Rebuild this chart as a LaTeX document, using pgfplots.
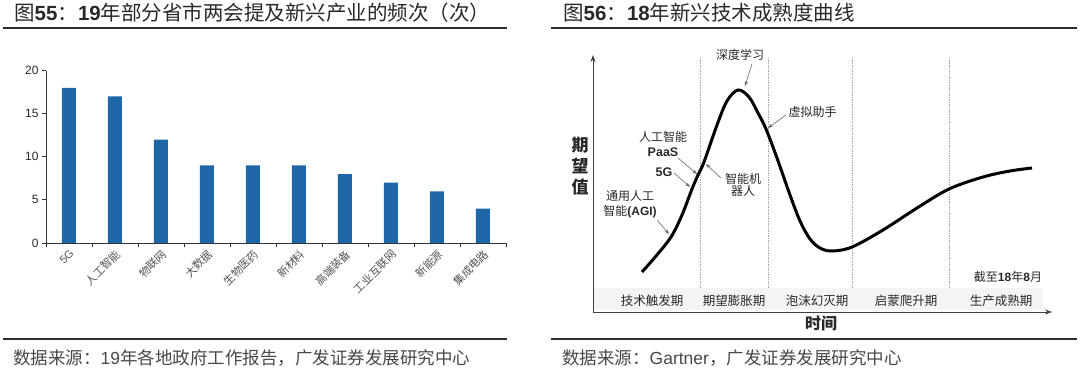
\documentclass[border=0pt]{standalone}
\usepackage{fontspec}
\setmainfont{Liberation Sans}
\newfontfamily\cjk{Noto Sans CJK SC}
\usepackage{pgfplots}
\pgfplotsset{compat=1.18}
\usetikzlibrary{arrows.meta}
\definecolor{barblue}{RGB}{30,102,166}
\definecolor{rulegray}{RGB}{45,45,45}
\definecolor{txt}{RGB}{40,40,40}
\begin{document}
\begin{tikzpicture}[x=1pt,y=1pt]
\path[use as bounding box] (0,0) rectangle (1080,373);
% titles
\node[anchor=west, inner sep=0, txt] at (14,360) {\fontsize{20.5}{20.5}\selectfont{\cjk 图}\textbf{55}{\cjk ：}\textbf{19}{\cjk 年部分省市两会提及新兴产业的频次（次）}};
\node[anchor=west, inner sep=0, txt] at (563,360) {\fontsize{20.5}{20.5}\selectfont{\cjk 图}\textbf{56}{\cjk ：}\textbf{18}{\cjk 年新兴技术成熟度曲线}};
\draw[rulegray, line width=2.5pt] (3,345) -- (507,345);
\draw[rulegray, line width=2.5pt] (551,345) -- (1077,345);
\draw[rulegray, line width=1.5pt] (3,34) -- (507,34);
\draw[rulegray, line width=1.5pt] (551,34) -- (1077,34);
% sources
\node[anchor=west, inner sep=0, txt!85] at (13,15) {\fontsize{17.5}{17.5}\selectfont{\cjk 数据来源：}19{\cjk 年各地政府工作报告，广发证券发展研究中心}};
\node[anchor=west, inner sep=0, txt!85] at (562,15) {\fontsize{17.5}{17.5}\selectfont{\cjk 数据来源：}Gartner{\cjk ，广发证券发展研究中心}};

% left bar chart
\begin{axis}[at={(46pt,130pt)}, anchor=south west, scale only axis,
  width=460pt, height=172.5pt,
  xmin=-0.5, xmax=9.5, ymin=0, ymax=20,
  axis lines*=left,
  axis line style={black!80, line width=0.8pt},
  tick style={black!80, line width=0.8pt},
  tick align=outside, major tick length=4pt,
  ytick={0,5,10,15,20},
  xtick={-0.5,0.5,...,9.5},
  x tick label as interval,
  xticklabels={5G,{\cjk 人工智能},{\cjk 物联网},{\cjk 大数据},{\cjk 生物医药},{\cjk 新材料},{\cjk 高端装备},{\cjk 工业互联网},{\cjk 新能源},{\cjk 集成电路}},
  xticklabel style={rotate=45, anchor=north east, font=\fontsize{11}{11}\selectfont, text=txt!80, inner sep=1pt},
  yticklabel style={font=\fontsize{12}{12}\selectfont, text=txt},
  /pgf/number format/assume math mode=true,
]
\addplot[ybar, bar width=14pt, fill=barblue, draw=none] coordinates {
(0,18) (1,17) (2,12) (3,9) (4,9) (5,9) (6,8) (7,7) (8,6) (9,4)};
\end{axis}

% right hype cycle
\node[txt, font=\bfseries\cjk\fontsize{17}{17}\selectfont, align=center, inner sep=0] at (580,207) {期\\[4pt]望\\[4pt]值};
\begin{axis}[at={(593pt,61pt)}, anchor=south west, scale only axis,
  width=459pt, height=257pt,
  xmin=593, xmax=1052, ymin=61, ymax=318,
  axis lines*=left,
  axis line style={black!75, line width=1pt, -{Stealth[length=7pt,width=5pt]}},
  xtick=\empty, ytick=\empty, clip=false]
\fill[gray!9] (axis cs:594,63) rectangle (axis cs:1043,85);
\draw[gray!70, line width=0.8pt, dash pattern=on 0.7pt off 1pt] (axis cs:700,85) -- (axis cs:700,315);
\draw[gray!70, line width=0.8pt, dash pattern=on 0.7pt off 1pt] (axis cs:768,85) -- (axis cs:768,315);
\draw[gray!70, line width=0.8pt, dash pattern=on 0.7pt off 1pt] (axis cs:852,85) -- (axis cs:852,315);
\draw[gray!70, line width=0.8pt, dash pattern=on 0.7pt off 1pt] (axis cs:949,85) -- (axis cs:949,315);
\addplot[black, line width=3pt, smooth, tension=0.55] coordinates {
(642,101) (656,117) (671,136) (682,158) (692,184) (698,198) (704,211) (717,248) (727,272) (738,283) (749,276) (758,260) (766,244) (777,215) (790,178) (800,152) (810,134) (820,125) (832,122) (852,126) (883,143) (917,165) (949,184) (983,196) (1010,202) (1032,205)};
% phase labels
\node[txt, font=\cjk\fontsize{12.5}{12.5}\selectfont] at (axis cs:652,72) {技术触发期};
\node[txt, font=\cjk\fontsize{12.5}{12.5}\selectfont] at (axis cs:734,72) {期望膨胀期};
\node[txt, font=\cjk\fontsize{12.5}{12.5}\selectfont] at (axis cs:817,72) {泡沫幻灭期};
\node[txt, font=\cjk\fontsize{12.5}{12.5}\selectfont] at (axis cs:906,72) {启蒙爬升期};
\node[txt, font=\cjk\fontsize{12.5}{12.5}\selectfont] at (axis cs:1001,72) {生产成熟期};
\node[txt, font=\bfseries\cjk\fontsize{16}{16}\selectfont] at (axis cs:821,50) {时间};
\node[txt, font=\fontsize{12}{12}\selectfont] at (axis cs:1008,96) {{\cjk 截至}\textbf{18}{\cjk 年}\textbf{8}{\cjk 月}};
% annotations
\node[txt, font=\cjk\fontsize{12}{12}\selectfont] at (axis cs:740,318) {深度学习};
\draw[gray!80!black, line width=0.6pt, -{Stealth[length=5pt,width=3.5pt]}] (axis cs:752,309) -- (axis cs:745,287);
\node[txt, font=\cjk\fontsize{12}{12}\selectfont, anchor=west] at (axis cs:785,261) {虚拟助手};
\draw[gray!80!black, line width=0.6pt, -{Stealth[length=5pt,width=3.5pt]}] (axis cs:786,258) -- (axis cs:768,245);
\node[txt, font=\cjk\fontsize{12}{12}\selectfont] at (axis cs:663,236) {人工智能};
\node[txt, font=\bfseries\fontsize{12.5}{12.5}\selectfont] at (axis cs:663,221) {PaaS};
\draw[gray!80!black, line width=0.6pt, -{Stealth[length=5pt,width=3.5pt]}] (axis cs:678,215) -- (axis cs:697,199);
\node[txt, font=\bfseries\fontsize{12.5}{12.5}\selectfont] at (axis cs:664,201) {5G};
\draw[gray!80!black, line width=0.6pt, -{Stealth[length=5pt,width=3.5pt]}] (axis cs:674,200) -- (axis cs:690,186);
\node[txt, font=\cjk\fontsize{12}{12}\selectfont, align=center] at (axis cs:743,188) {智能机\\器人};
\draw[gray!80!black, line width=0.6pt, -{Stealth[length=5pt,width=3.5pt]}] (axis cs:721,195) -- (axis cs:706,209);
\node[txt, font=\cjk\fontsize{12}{12}\selectfont] at (axis cs:630,177) {通用人工};
\node[txt, font=\fontsize{12}{12}\selectfont] at (axis cs:630,161) {{\cjk 智能}\textbf{(AGI)}};
\draw[gray!80!black, line width=0.6pt, -{Stealth[length=5pt,width=3.5pt]}] (axis cs:657,153) -- (axis cs:669,139);
\end{axis}
\end{tikzpicture}
\end{document}
